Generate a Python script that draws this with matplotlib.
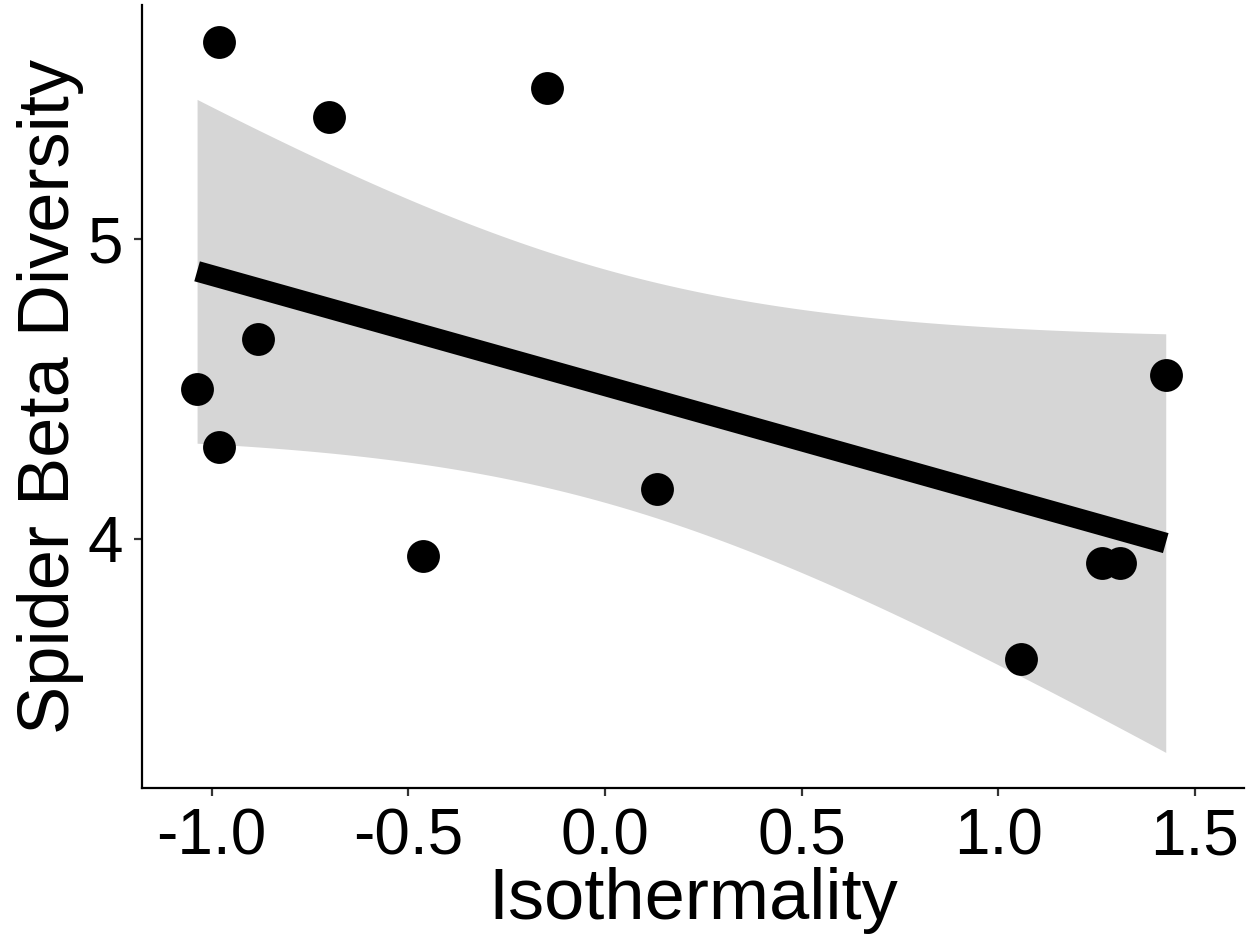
import numpy as np
import matplotlib
matplotlib.use("Agg")
import matplotlib.pyplot as plt

plt.rcParams['font.family'] = ['Liberation Sans', 'DejaVu Sans']

# data
isothermality = [-0.981, -0.701, -0.148, -0.883, -1.037, -0.981, -0.463,
                 0.132, 1.426, 1.263, 1.309, 1.059]
beta_diversity = [5.659, 5.407, 5.505, 4.666, 4.501, 4.306, 3.943,
                  4.167, 4.547, 3.919, 3.919, 3.599]

x_ticks = [-1.0, -0.5, 0.0, 0.5, 1.0, 1.5]
x_ticklabels = ["-1.0", "-0.5", "0.0", "0.5", "1.0", "1.5"]
y_ticks = [4, 5]

x = np.array(isothermality)
y = np.array(beta_diversity)

# linear fit with 95% confidence band (like geom_smooth(method="lm"))
n = len(x)
slope, intercept = np.polyfit(x, y, 1)
resid = y - (slope * x + intercept)
s = np.sqrt(np.sum(resid ** 2) / (n - 2))
sxx = np.sum((x - x.mean()) ** 2)
t_crit = 2.228  # t(0.975, df=10)
xs = np.linspace(x.min(), x.max(), 100)
fit = slope * xs + intercept
se = s * np.sqrt(1.0 / n + (xs - x.mean()) ** 2 / sxx)

fig = plt.figure(figsize=(12.48, 9.36), dpi=100)
ax = fig.add_axes([0.1138, 0.1581, 0.883, 0.8366])

ax.fill_between(xs, fit - t_crit * se, fit + t_crit * se,
                color="#d6d6d6", linewidth=0, zorder=1)
ax.scatter(x, y, s=560, color="black", linewidths=0, zorder=3)
ax.plot(xs, fit, color="black", linewidth=14.9, solid_capstyle="butt", zorder=4)

ax.set_xlim(-1.177, 1.625)
ax.set_ylim(3.169, 5.782)
ax.set_xticks(x_ticks)
ax.set_xticklabels(x_ticklabels)
ax.set_yticks(y_ticks)

for side in ["top", "right"]:
    ax.spines[side].set_visible(False)
for side in ["left", "bottom"]:
    ax.spines[side].set_linewidth(1.6)
    ax.spines[side].set_color("black")

ax.tick_params(axis="both", length=6, width=1.6, color="#333333",
               labelsize=46, labelcolor="black")
ax.tick_params(axis="x", pad=8)
ax.tick_params(axis="y", pad=8)

ax.set_xlabel("Isothermality", fontsize=52, labelpad=0)
ax.set_ylabel("Spider Beta Diversity", fontsize=52, labelpad=2)

fig.savefig("out.png", dpi=100)
